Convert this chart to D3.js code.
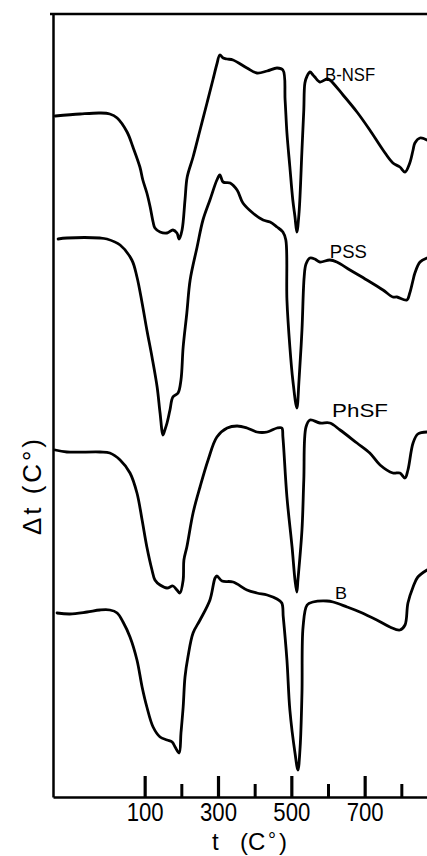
<!DOCTYPE html>
<html><head><meta charset="utf-8">
<script src="https://cdn.jsdelivr.net/npm/d3@7"></script>
<style>html,body{margin:0;padding:0;background:#fff}svg{display:block}</style>
</head><body>
<svg id="chart" width="427" height="856"></svg>
<script>
// ---- data: DTA curves, t (°C) vs Δt (arbitrary, offset) ----
const seriesNames = ["B-NSF", "PSS", "PhSF", "B"];

const curveBNSF = [[-144,68.1],[-76,68.3],[-22,68.4],[5,68.3],[25,67.9],[52,66.5],[68,65.0],[87,63.0],[95,61.7],[106,60.4],[115,59.0],[123,57.5],[128,56.9],[142,56.5],[161,56.4],[177,56.7],[188,56.4],[194,55.8],[202,56.7],[210,59.7],[216,62.0],[232,64.0],[251,66.7],[270,69.4],[286,71.7],[297,73.3],[305,74.2],[314,73.9],[325,73.8],[341,73.7],[379,72.9],[406,72.4],[434,72.6],[461,72.9],[477,72.7],[483,69.7],[488,66.4],[496,63.0],[504,59.7],[510,58.0],[515,56.5],[521,58.4],[529,64.7],[534,68.7],[537,71.4],[543,72.1],[551,72.5],[559,72.2],[564,72.0],[578,71.5],[597,71.8],[605,71.7],[641,70.2],[679,68.5],[714,66.7],[750,64.7],[777,63.4],[796,63.0],[810,62.5],[823,63.4],[832,64.7],[837,65.4],[851,65.9],[870,65.7]];

const curvePSS = [[-136,55.8],[-112,55.9],[-22,55.9],[-3,55.8],[33,55.2],[65,53.7],[79,52.0],[93,49.4],[106,46.7],[120,44.0],[134,41.0],[142,38.4],[150,36.2],[155,36.7],[161,37.4],[169,38.7],[177,40.0],[191,40.4],[199,41.7],[205,45.0],[215,48.4],[224,51.7],[243,55.0],[259,57.7],[278,59.7],[297,61.7],[305,62.2],[314,61.5],[333,61.4],[352,60.7],[368,59.4],[395,58.4],[423,57.7],[442,57.5],[461,57.0],[477,56.5],[485,55.7],[488,49.7],[496,45.0],[504,41.7],[515,38.9],[521,41.7],[529,46.7],[535,52.0],[540,53.3],[551,53.9],[564,53.8],[578,53.5],[605,53.7],[624,53.5],[660,52.7],[706,51.7],[750,50.7],[777,50.0],[788,50.0],[815,49.7],[823,50.4],[832,51.7],[837,52.4],[851,53.5],[870,53.9]];

const curvePhSF = [[-144,34.7],[-112,34.5],[-22,34.5],[5,34.4],[33,33.7],[60,32.4],[79,30.4],[93,27.7],[106,25.0],[120,22.7],[128,21.7],[142,21.2],[161,20.9],[177,21.1],[188,20.7],[196,20.4],[205,21.7],[207,23.7],[215,25.0],[232,28.4],[251,31.0],[273,33.7],[297,36.0],[325,36.9],[352,37.1],[379,36.9],[406,36.5],[434,36.5],[461,36.9],[474,36.9],[477,36.0],[488,30.0],[502,25.0],[510,21.7],[515,20.5],[518,21.7],[529,26.7],[534,31.7],[540,37.0],[551,37.7],[578,37.4],[605,37.4],[633,36.7],[679,35.4],[714,34.4],[742,33.2],[777,32.4],[796,32.4],[810,31.9],[818,32.7],[832,35.4],[845,36.3],[870,36.5]];

const curveB = [[-139,18.4],[-104,18.3],[-57,18.5],[-22,18.7],[5,18.7],[25,18.4],[41,17.5],[60,16.0],[79,13.7],[93,11.0],[106,9.0],[123,7.0],[142,6.0],[161,5.7],[175,5.5],[183,5.0],[194,4.4],[199,6.4],[205,9.0],[210,12.0],[218,14.0],[232,16.4],[251,17.7],[278,19.7],[292,21.9],[297,22.1],[311,21.6],[341,21.5],[379,20.7],[406,20.4],[434,20.2],[461,19.8],[474,19.4],[478,18.0],[488,13.7],[496,8.7],[510,4.4],[518,2.7],[524,5.0],[529,10.4],[532,17.0],[543,19.2],[559,19.5],[597,19.6],[614,19.5],[652,19.0],[687,18.5],[733,17.7],[769,17.0],[796,16.7],[810,17.2],[818,19.4],[832,21.0],[845,22.0],[870,22.7]];

const majorTicks = [100, 300, 500, 700];
const minorTicks = [200, 400, 600, 800];
const tickLabels = ["100", "300", "500", "700"];

// label anchors (data units)
const labelT = [592, 605, 611, 619];
const labelV = [71.6, 53.9, 38.0, 19.8];

// ---- drawing ----
const svg = d3.select("#chart");
const FONT = "'Liberation Sans', Arial, sans-serif";
const x = d3.scaleLinear().domain([-150, 870]).range([53, 427]);
const y = d3.scaleLinear().domain([0, 78.3]).range([797, 14]);

// top border
svg.append("line").attr("x1", 50).attr("x2", 427).attr("y1", y(78.3)).attr("y2", y(78.3))
  .attr("stroke", "#000").attr("stroke-width", 2.5);

// left axis
const gy = svg.append("g").attr("transform", `translate(${x(-150)},0)`)
  .call(d3.axisLeft(y).tickValues([]).tickSizeOuter(0));
gy.select(".domain").attr("stroke", "#000").attr("stroke-width", 2.5);

// bottom axis: minor ticks
const gxMinor = svg.append("g").attr("transform", `translate(0,${y(0)})`)
  .call(d3.axisBottom(x).tickValues(minorTicks).tickSizeInner(-13).tickSizeOuter(0).tickFormat(""));
gxMinor.selectAll(".tick line").attr("stroke", "#000").attr("stroke-width", 3);
gxMinor.select(".domain").attr("stroke", "#000").attr("stroke-width", 2.5);

// bottom axis: major ticks with labels
const gxMajor = svg.append("g").attr("transform", `translate(0,${y(0)})`)
  .call(d3.axisBottom(x).tickValues(majorTicks).tickSizeInner(-21).tickSizeOuter(0)
    .tickPadding(6).tickFormat((d, i) => tickLabels[i]));
gxMajor.select(".domain").remove();
gxMajor.selectAll(".tick line").attr("stroke", "#000").attr("stroke-width", 3.2);
gxMajor.selectAll(".tick text").attr("font-family", FONT).attr("font-size", 25).attr("fill", "#000")
  .attr("textLength", 37).attr("lengthAdjust", "spacingAndGlyphs");

// curves
const line = d3.line().x(d => x(d[0])).y(d => y(d[1])).curve(d3.curveCatmullRom.alpha(0.5));
const curves = [curveBNSF, curvePSS, curvePhSF, curveB];
svg.append("g").selectAll("path").data(curves).join("path")
  .attr("d", line).attr("fill", "none").attr("stroke", "#000")
  .attr("stroke-width", 2.8).attr("stroke-linejoin", "round").attr("stroke-linecap", "round");

// series labels
const labelSize = [19, 19, 19, 17];
const labelLen = [50, 37, 56, 12];
svg.append("g").selectAll("text").data(seriesNames).join("text")
  .attr("x", (d, i) => x(labelT[i])).attr("y", (d, i) => y(labelV[i]))
  .attr("font-family", FONT).attr("font-size", (d, i) => labelSize[i])
  .attr("textLength", (d, i) => labelLen[i]).attr("lengthAdjust", "spacingAndGlyphs")
  .attr("fill", "#000").text(d => d);

// x axis title
const xt = svg.append("text").attr("x", 212).attr("y", 850)
  .attr("font-family", FONT).attr("font-size", 24).attr("fill", "#000");
xt.append("tspan").text("t");
xt.append("tspan").attr("x", 240).text("(C");
xt.append("tspan").attr("x", 268).attr("dy", -3).attr("font-size", 20).text("°");
xt.append("tspan").attr("x", 279).attr("dy", 3).text(")");

// y axis title
svg.append("text").attr("transform", "translate(41,487) rotate(-90)")
  .attr("text-anchor", "middle").attr("font-family", FONT).attr("font-size", 26)
  .attr("textLength", 96).attr("lengthAdjust", "spacing")
  .attr("fill", "#000").text("Δt (C°)");
</script>
</body></html>
